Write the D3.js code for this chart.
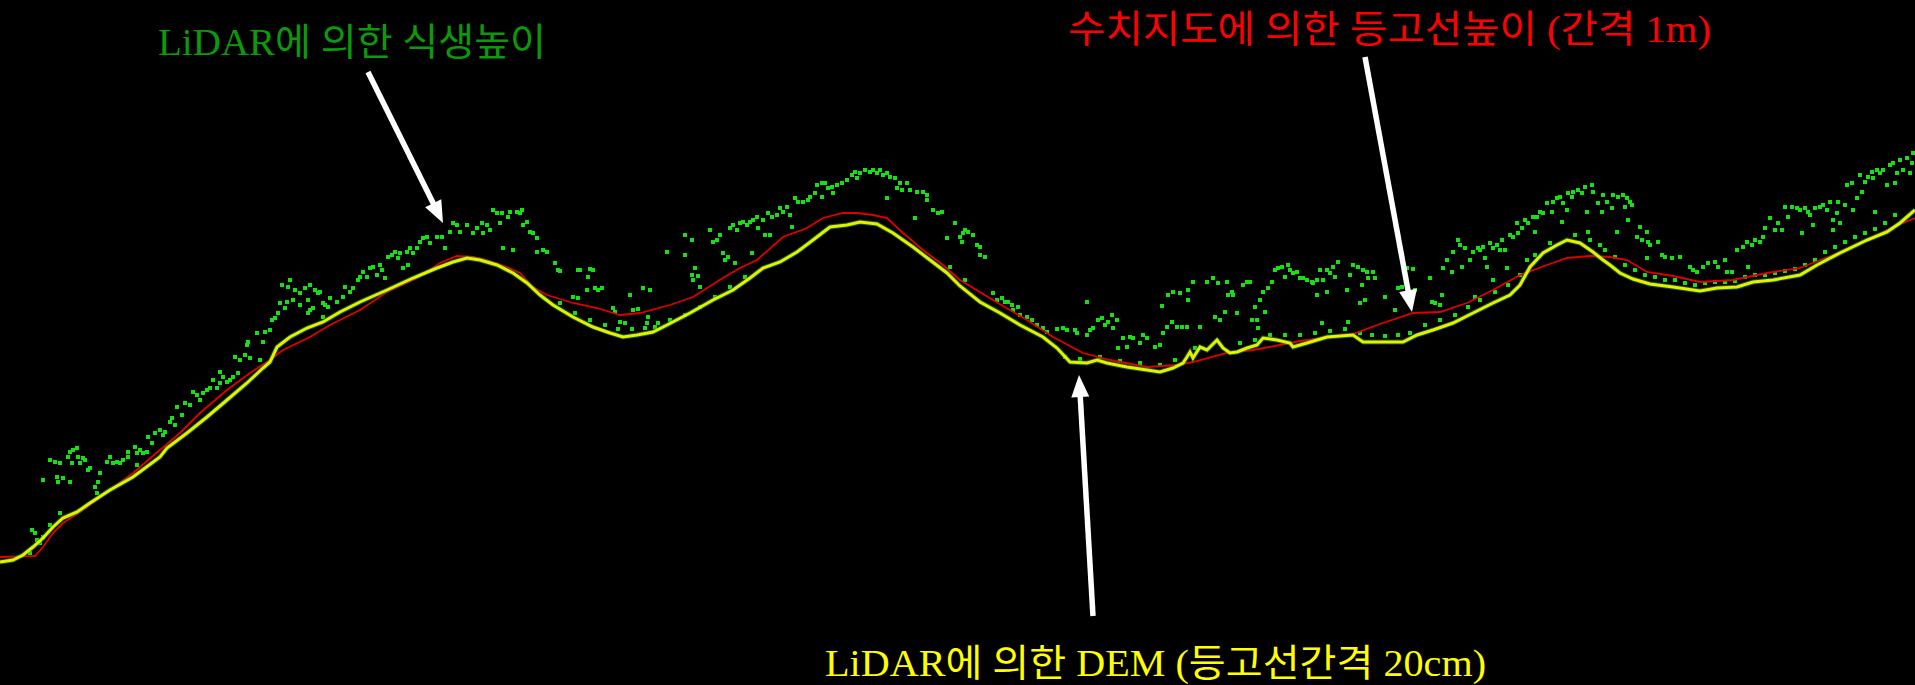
<!DOCTYPE html>
<html>
<head>
<meta charset="utf-8">
<script src="https://cdn.jsdelivr.net/npm/d3@7"></script>
<style>
  html, body { margin: 0; padding: 0; background: #000; }
  svg { display: block; }
</style>
</head>
<body>
<div id="chart"></div>
<script>
// profile values: [distance, height]
const demLine = [
  [0,123],[13,125],[23,130],[33,138],[43,147],[53,158],[63,167],[77,173],[90,182],[110,195],
  [133,208],[160,228],[167,237],[187,252],[207,268],[227,285],[247,302],[263,317],[270,323],[277,338],
  [290,348],[307,357],[323,363],[340,373],[360,383],[387,395],[413,407],[437,417],[453,423],[467,427],
  [480,425],[497,420],[513,412],[527,402],[540,390],[553,380],[573,368],[593,358],[610,352],[623,348],
  [637,350],[653,353],[667,360],[690,372],[713,385],[733,395],[750,407],[763,417],[780,423],[797,433],
  [813,445],[830,458],[847,460],[860,463],[877,461],[893,452],[913,438],[930,425],[947,412],[960,399],
  [980,383],[1000,372],[1020,360],[1043,348],[1057,337],[1070,323],[1087,322],[1097,325],[1107,322],[1127,318],
  [1147,315],[1160,313],[1173,317],[1183,322],[1187,328],[1190,333],[1193,327],[1200,338],[1207,335],[1217,345],
  [1223,337],[1230,332],[1237,333],[1247,337],[1257,340],[1263,347],[1277,345],[1290,342],[1293,338],[1307,342],
  [1327,348],[1353,350],[1363,343],[1380,343],[1403,343],[1417,350],[1433,355],[1453,362],[1473,372],[1493,382],
  [1510,390],[1520,400],[1530,418],[1543,432],[1557,440],[1567,445],[1580,442],[1593,433],[1603,425],[1610,420],
  [1620,412],[1633,406],[1650,401],[1673,398],[1700,394],[1717,397],[1737,398],[1753,403],[1773,405],[1800,410],
  [1817,420],[1840,432],[1867,445],[1887,453],[1900,462],[1915,475]
];

const contourLine = [
  [0,128],[35,129],[43,138],[53,152],[63,162],[80,173],[110,195],[133,212],[160,235],[180,252],
  [200,272],[227,295],[250,312],[267,323],[283,335],[310,348],[330,360],[360,375],[387,393],[417,407],
  [440,422],[457,429],[473,428],[487,425],[507,418],[520,412],[533,398],[547,390],[573,382],[597,377],
  [620,370],[640,372],[670,380],[693,388],[723,407],[740,417],[757,425],[783,448],[807,457],[823,467],
  [843,472],[857,472],[873,470],[887,467],[903,452],[923,435],[943,420],[960,405],[993,385],[1027,365],
  [1053,348],[1083,332],[1110,325],[1147,318],[1177,320],[1193,323],[1227,332],[1253,335],[1280,340],[1300,344],
  [1330,348],[1353,351],[1380,361],[1413,372],[1440,373],[1467,382],[1493,395],[1520,410],[1547,420],[1567,427],
  [1590,429],[1610,428],[1627,425],[1647,413],[1673,409],[1700,403],[1733,405],[1767,412],[1800,417],[1833,430],
  [1867,445],[1893,458],[1915,467]
];

const vegPoints = [
  [32,155],[35,152],[37,145],[43,148],[43,205],[50,225],[55,223],[57,208],[58,203],[60,222],
  [63,207],[68,228],[70,233],[72,222],[70,203],[73,235],[77,237],[78,228],[80,222],[83,227],
  [85,225],[88,215],[90,217],[60,172],[95,198],[97,192],[98,203],[100,212],[107,223],[110,228],
  [113,222],[117,223],[120,222],[123,225],[128,228],[128,233],[135,238],[137,232],[140,235],[137,220],
  [143,232],[147,233],[148,248],[152,242],[155,252],[160,255],[163,250],[165,253],[170,263],[172,267],
  [175,260],[177,278],[182,270],[185,282],[190,280],[193,293],[197,290],[200,285],[203,292],[207,295],
  [210,297],[213,305],[217,297],[220,302],[220,313],[223,308],[227,303],[230,305],[233,308],[235,328],
  [238,312],[240,325],[245,330],[247,340],[248,343],[250,327],[257,352],[260,325],[263,343],[265,353],
  [270,355],[272,365],[275,367],[278,372],[280,382],[285,377],[287,383],[293,385],[300,380],[308,372],
  [310,375],[313,377],[323,368],[325,380],[328,378],[282,400],[288,398],[295,395],[300,392],[305,397],
  [310,400],[315,395],[290,405],[318,392],[308,385],
  [320,393],[323,382],[330,387],[337,383],[343,388],[345,398],[350,393],[353,397],[358,405],[360,408],
  [363,413],[367,408],[370,417],[373,418],[377,410],[380,420],[382,415],[385,407],[388,428],[392,430],
  [395,433],[398,427],[400,432],[403,417],[407,433],[408,420],[410,437],[413,432],[417,437],[420,443],
  [423,447],[427,448],[430,442],[437,448],[442,448],[445,437],[450,453],[453,462],[457,460],[460,453],
  [467,460],[473,452],[477,457],[482,462],[483,452],[487,460],[490,455],[493,475],[497,472],[500,462],
  [502,472],[503,437],[508,468],[510,473],[513,435],[517,473],[520,472],[522,475],[523,460],[527,463],
  [530,453],[533,452],[537,447],[537,433],[543,435],[547,433],[555,422],[558,415],[560,414],[578,415],
  [580,415],[588,408],[590,416],[593,415],[595,397],[598,395],[602,397],[587,395],[573,388],[578,387],
  [613,377],[615,373],[620,363],[625,362],[630,390],[633,375],[638,376],[643,397],[647,362],[648,368],
  [650,395],[658,362],[667,433],[685,450],[685,430],[692,445],[692,410],[695,417],[698,409],[693,405],
  [700,398],[710,455],[713,443],[717,445],[720,450],[723,432],[725,425],[728,428],[730,457],[733,460],
  [735,422],[737,455],[740,462],[743,463],[747,460],[750,463],[753,465],[757,468],[758,457],[752,432],
  [763,465],[765,450],[768,472],[770,450],[772,468],[777,470],[780,477],[783,473],[787,478],[790,470],
  [792,458],[795,487],[798,483],[803,483],[808,485],[810,488],[815,492],[817,500],[822,502],[822,488],
  [825,502],[828,497],[832,498],[833,492],[837,500],[842,502],[847,505],[852,510],[855,513],[857,507],
  [860,512],[865,515],[870,513],[873,515],[877,512],[880,515],[883,510],[887,512],[890,508],[895,507],
  [897,497],[900,502],[902,495],[907,502],[910,495],[917,493],[923,493],[927,490],[927,485],[887,487],
  [933,475],[938,472],[942,473],[915,467],[955,462],[947,447],[960,448],[962,443],[965,455],[968,453],
  [963,452],[973,450],[977,440],[980,438],[980,430],[985,428],
  [993,392],[997,385],[1002,387],[1005,383],[1008,383],[1012,380],[1013,375],[1018,378],[1020,370],[1027,368],
  [1032,365],[1037,360],[1043,357],[1047,353],[1057,356],[1063,357],[1067,355],[1075,355],[1077,352],[1087,383],
  [1087,350],[1090,355],[1093,357],[1098,365],[1102,367],[1105,360],[1108,363],[1112,370],[1113,357],[1117,365],
  [1118,337],[1123,347],[1127,338],[1130,348],[1133,347],[1140,342],[1143,350],[1147,347],[1155,338],[1160,340],
  [1162,379],[1163,352],[1167,358],[1168,390],[1172,363],[1173,393],[1177,358],[1180,392],[1182,358],[1187,358],
  [1188,395],[1188,385],[1193,403],[1195,337],[1200,358],[1207,403],[1213,407],[1215,368],[1218,402],[1220,365],
  [1225,373],[1227,403],[1228,390],[1232,393],[1233,390],[1237,372],[1243,400],[1247,403],[1250,403],[1252,365],
  [1255,378],[1257,365],[1258,357],[1260,385],[1263,393],[1265,373],[1268,397],[1272,403],[1275,415],[1278,417],
  [1282,418],[1285,408],[1288,420],
  [1290,415],[1293,412],[1297,413],[1300,407],[1303,407],[1307,405],[1312,403],[1313,402],[1317,405],[1320,415],
  [1323,405],[1327,415],[1330,412],[1333,418],[1338,423],[1335,408],[1317,390],[1327,393],[1347,395],[1350,410],
  [1353,420],[1358,418],[1362,400],[1363,415],[1365,385],[1367,413],[1368,407],[1373,413],[1375,407],[1360,382],
  [1322,362],[1348,363],[1385,388],[1395,375],[1398,397],[1402,398],[1407,417],[1413,416],[1415,395],[1430,407],
  [1432,383],[1435,382],[1440,380],[1442,390],[1443,417],[1447,425],[1452,413],[1453,433],[1458,445],[1460,440],
  [1462,418],[1465,437],[1470,425],[1473,433],[1475,388],[1478,437],[1480,435],[1483,438],[1485,427],[1487,418],
  [1490,442],[1493,437],[1493,405],[1497,440],[1500,435],[1502,445],[1505,435],[1507,417],[1510,450],[1513,448],
  [1517,462],[1518,452],[1522,457],[1525,465],[1527,425],[1528,462],[1533,468],[1535,453],[1537,468],[1540,473],
  [1543,472],[1547,482],[1552,473],[1553,483],[1557,487],[1560,488],[1562,463],[1563,482],[1567,475],[1568,492],
  [1572,488],[1573,493],[1578,495],[1582,492],[1585,498],[1587,473],[1588,453],[1592,500],[1593,493],[1598,482],
  [1602,473],[1603,490],[1607,483],
  [1613,490],[1618,488],[1623,490],[1627,487],[1630,483],[1632,480],[1625,478],[1612,477],[1628,465],[1617,453],
  [1637,448],[1640,458],[1642,445],[1647,453],[1648,443],[1650,440],[1658,443],[1662,430],[1665,428],[1672,427],
  [1680,428],[1647,427],[1690,418],[1693,415],[1697,413],[1703,418],[1708,422],[1715,423],[1718,418],[1725,425],
  [1727,413],[1732,413],[1737,435],[1743,438],[1747,443],[1748,418],[1752,440],[1755,445],[1760,443],[1763,448],
  [1765,457],[1770,467],[1775,455],[1778,462],[1782,455],[1785,478],[1788,468],[1792,478],[1797,477],[1800,475],
  [1802,452],[1805,477],[1808,473],[1810,470],[1813,460],[1815,477],[1820,478],[1823,480],[1827,475],[1830,483],
  [1833,465],[1833,455],[1837,472],[1838,483],[1840,462],[1845,480],[1847,500],[1852,502],[1853,475],[1857,487],
  [1860,510],[1862,493],[1865,503],[1868,508],[1872,513],[1873,507],[1877,515],[1880,512],[1883,515],[1887,500],
  [1890,520],[1893,522],[1895,502],[1897,512],[1900,525],[1903,515],[1907,527],[1910,512],[1913,532],[1912,522],
  [1875,473]
];

// vegetation returns lying close to the ground surface
const groundVegPoints = [
  [30,132],[40,142],[50,160],[560,382],[575,372],[590,365],[605,360],[618,356],[632,356],[645,357],
  [655,358],[670,365],[685,370],[700,378],[715,388],[730,398],[745,408],[950,418],[965,405],
  [1065,328],[1080,326],[1100,328],[1120,324],[1140,322],[1160,320],[1175,325],[1240,342],[1255,345],[1270,350],
  [1285,350],[1300,350],[1315,352],[1330,354],[1345,356],[1360,352],[1372,350],[1385,349],[1398,350],[1410,352],
  [1425,360],[1440,365],[1455,370],[1468,378],[1480,385],[1495,393],[1508,400],[1520,410],[1535,430],[1550,442],
  [1575,450],[1590,445],[1600,440],[1605,435],[1615,428],[1625,420],[1635,415],[1645,410],[1655,408],[1665,405],
  [1675,405],[1685,402],[1695,400],[1705,402],[1715,403],[1725,403],[1735,404],[1745,408],[1755,410],[1765,410],
  [1775,412],[1785,414],[1795,416],[1805,420],[1815,425],[1825,433],[1835,438],[1845,443],[1855,448],[1865,452],
  [1875,456],[1885,462],[1895,470]
];

// annotation arrows in the same units: tail -> tip
const arrows = [
  { from: [368, 613], to: [443, 462] },
  { from: [1365, 628], to: [1412, 373] },
  { from: [1093, 69], to: [1079, 310] }
];

const labels = [
  { text: 'LiDAR에 의한 식생높이', x: 158, y: 55, width: 388, color: '#0a9a0a' },
  { text: '수치지도에 의한 등고선높이 (간격 1m)', x: 1068, y: 42, width: 643, color: '#ff0000' },
  { text: 'LiDAR에 의한 DEM (등고선간격 20cm)', x: 825, y: 676, width: 661, color: '#ffff00' }
];

const width = 1915;
const height = 685;

const svg = d3.select('#chart')
  .append('svg')
  .attr('width', width)
  .attr('height', height)
  .style('background', '#000');

const x = d3.scaleLinear().domain([0, 1915]).range([0, width]);
const y = d3.scaleLinear().domain([0, 685]).range([height, 0]);

const line = d3.line()
  .x(d => x(d[0]))
  .y(d => y(d[1]));

// vegetation points
svg.append('g')
  .selectAll('rect')
  .data(vegPoints.concat(groundVegPoints))
  .enter()
  .append('rect')
  .attr('x', d => x(d[0]) - 2)
  .attr('y', d => y(d[1]) - 2)
  .attr('width', 4)
  .attr('height', 4)
  .attr('fill', '#14e014');

// contour line from the digital map
svg.append('path')
  .datum(contourLine)
  .attr('d', line)
  .attr('fill', 'none')
  .attr('stroke', '#e00000')
  .attr('stroke-width', 1.8);

// LiDAR DEM profile
svg.append('path')
  .datum(demLine)
  .attr('d', line)
  .attr('fill', 'none')
  .attr('stroke', '#1a8a1a')
  .attr('stroke-width', 5)
  .attr('stroke-opacity', 0.6);

svg.append('path')
  .datum(demLine)
  .attr('d', line)
  .attr('fill', 'none')
  .attr('stroke', '#ffff00')
  .attr('stroke-width', 3)
  .attr('stroke-opacity', 0.9);

// arrows
const head = 22, half = 9;
arrows.forEach(a => {
  const x1 = x(a.from[0]), y1 = y(a.from[1]);
  const x2 = x(a.to[0]), y2 = y(a.to[1]);
  const len = Math.hypot(x2 - x1, y2 - y1);
  const ux = (x2 - x1) / len, uy = (y2 - y1) / len;
  const bx = x2 - ux * head, by = y2 - uy * head;

  svg.append('line')
    .attr('x1', x1).attr('y1', y1)
    .attr('x2', bx + ux * 2).attr('y2', by + uy * 2)
    .attr('stroke', '#fff')
    .attr('stroke-width', 5.5);

  svg.append('polygon')
    .attr('points', [
      [x2, y2],
      [bx - uy * half, by + ux * half],
      [bx + uy * half, by - ux * half]
    ].map(p => p.join(',')).join(' '))
    .attr('fill', '#fff');
});

// labels
svg.selectAll('text.label')
  .data(labels)
  .enter()
  .append('text')
  .attr('class', 'label')
  .attr('x', d => d.x)
  .attr('y', d => d.y)
  .attr('textLength', d => d.width)
  .attr('lengthAdjust', 'spacingAndGlyphs')
  .attr('fill', d => d.color)
  .style('font-family', "'Liberation Serif', 'Noto Sans CJK KR', serif")
  .style('font-size', '38px')
  .text(d => d.text);
</script>
</body>
</html>
